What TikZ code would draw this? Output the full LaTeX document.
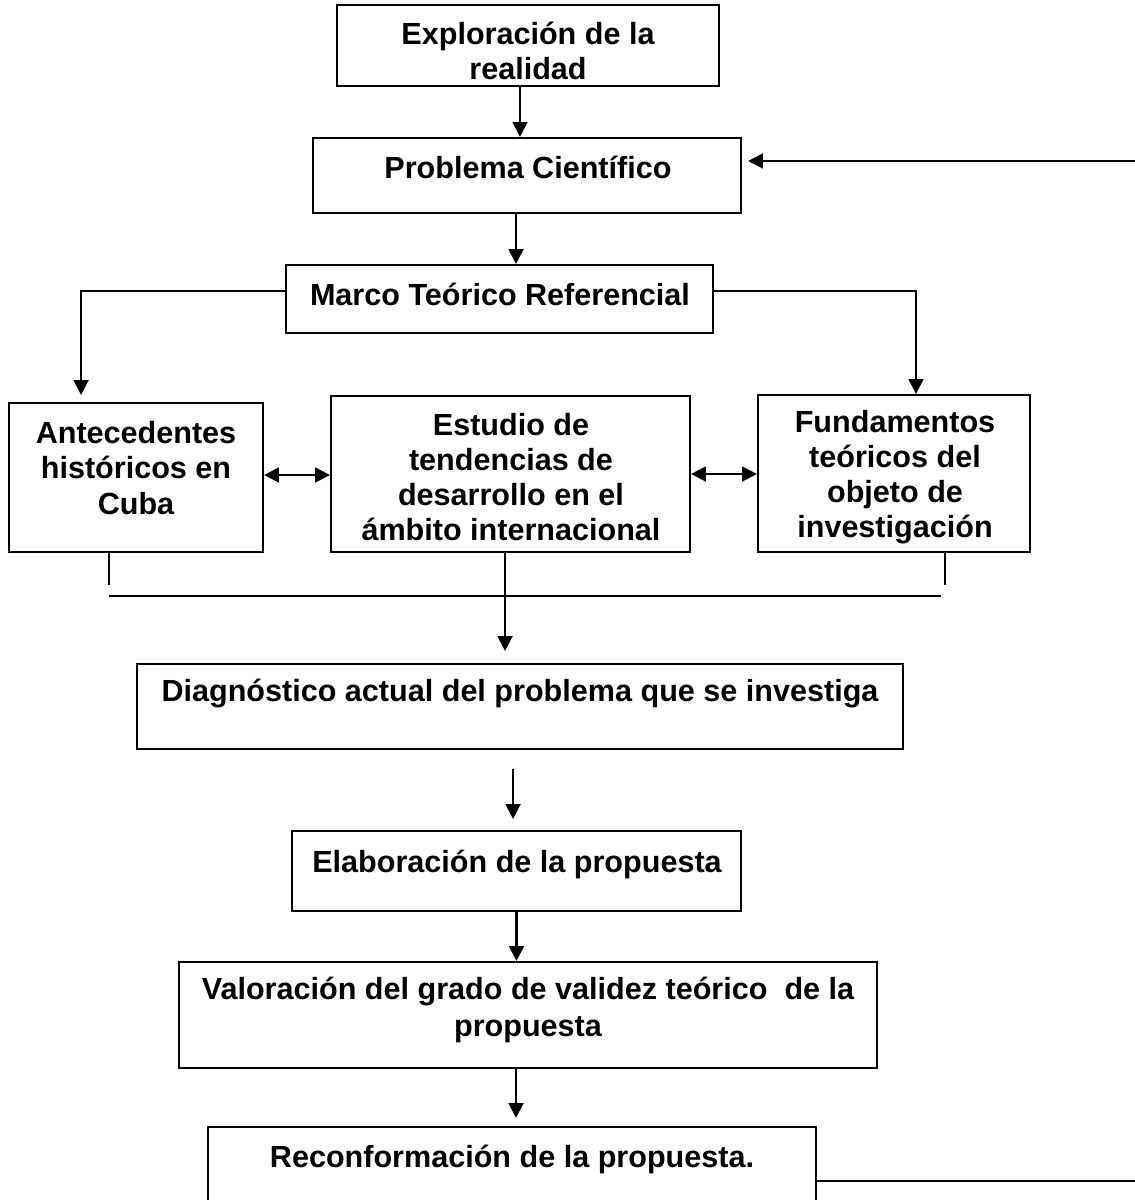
\documentclass[tikz,border=0pt]{standalone}
\usepackage{fontspec}
\setmainfont{Liberation Sans}
\usetikzlibrary{fit,arrows.meta}

\tikzset{
  caja/.style={draw, line width=1.2pt, inner sep=0pt},
  texto/.style={font=\fontsize{17.4}{20}\selectfont\bfseries, align=center, inner sep=0pt},
  linea/.style={line width=1.2pt},
  flecha/.style={line width=1.2pt, -{Triangle[length=8.5pt,width=8.5pt]}},
  doble/.style={line width=1.2pt, {Triangle[length=8.5pt,width=8.5pt]}-{Triangle[length=8.5pt,width=8.5pt]}}
}

\begin{document}
\begin{tikzpicture}[x=0.02cm,y=-0.02cm]
  \useasboundingbox (0,0) rectangle (1135,1200);
  \clip (0,0) rectangle (1135,1200);

  % cajas
  \node[caja, fit={(337,5) (719,86)}] (expl) {};
  \node[caja, fit={(313,138) (741,213)}] (prob) {};
  \node[caja, fit={(286,265) (713,333)}] (marco) {};
  \node[caja, fit={(9,403) (263,552)}] (ante) {};
  \node[caja, fit={(331,396) (690,552)}] (estu) {};
  \node[caja, fit={(758,395) (1030,552)}] (fund) {};
  \node[caja, fit={(137,664) (903,749)}] (diag) {};
  \node[caja, fit={(292,831) (741,911)}] (elab) {};
  \node[caja, fit={(179,962) (877,1068)}] (valo) {};
  \node[caja, fit={(208,1127) (816,1220)}] (reco) {};

  % textos
  \node[texto] (t-expl) at (528,51) {Exploración de la\\realidad};
  \node[texto] (t-prob) at (528,167) {Problema Científico};
  \node[texto] (t-marco) at (500,294) {Marco Teórico Referencial};
  \node[texto] (t-ante) at (136,468) {Antecedentes\\históricos en\\Cuba};
  \node[texto] (t-estu) at (511,477) {Estudio de\\tendencias de\\desarrollo en el\\ámbito internacional};
  \node[texto] (t-fund) at (895,477) {Fundamentos\\teóricos del\\objeto de\\investigación};
  \node[texto] (t-diag) at (520,694) {Diagnóstico actual del problema que se investiga};
  \node[texto] (t-elab) at (517,864) {Elaboración de la propuesta};
  \node[texto, font=\fontsize{17.4}{21.5}\selectfont\bfseries] (t-valo) at (528,1010) {Valoración del grado de validez teórico\ \ de la\\propuesta};
  \node[texto] (t-reco) at (512,1159) {Reconformación de la propuesta.};

  % conectores
  \draw[flecha] ([xshift=-0.16cm]expl.south) -- ([xshift=-0.16cm]expl.south |- prob.north);
  \coordinate (ret1) at (1135,161);
  \draw[flecha, shorten >=0.12cm] (ret1) -- (ret1 -| prob.east);
  \draw[flecha] ([xshift=-0.22cm]prob.south) -- ([xshift=-0.22cm]prob.south |- marco.north);
  \draw[flecha, shorten >=0.14cm] ([yshift=0.16cm]marco.west) -| ([xshift=-1.1cm]ante.north);
  \draw[flecha] ([yshift=0.16cm]marco.east) -| ([xshift=0.44cm]fund.north);
  \draw[doble] ([yshift=0.05cm]ante.east) -- ([yshift=0.05cm]ante.east -| estu.west);
  \draw[doble] (estu.east) -- (estu.east -| fund.west);

  % cierre de la fila
  \coordinate (c-izq) at (109,585);
  \coordinate (c-der) at (945,585);
  \draw[linea] (ante.south -| c-izq) -- (c-izq);
  \draw[linea] (fund.south -| c-der) -- (c-der);
  \draw[linea] (109,596) -- (941,596);
  \draw[flecha, shorten >=0.24cm] ([xshift=-0.11cm]estu.south) -- ([xshift=-0.11cm]estu.south |- diag.north);

  \draw[flecha, shorten <=0.38cm, shorten >=0.22cm] ([xshift=-0.14cm]diag.south) -- ([xshift=-0.14cm]diag.south |- elab.north);
  \draw[flecha] (elab.south) -- (elab.south |- valo.north);
  \draw[flecha, shorten >=0.16cm] ([xshift=-0.24cm]valo.south) -- ([xshift=-0.24cm]valo.south |- reco.north);
  \coordinate (ret2) at (1135,1181);
  \draw[linea] (ret2 -| reco.east) -- (ret2);
\end{tikzpicture}
\end{document}
